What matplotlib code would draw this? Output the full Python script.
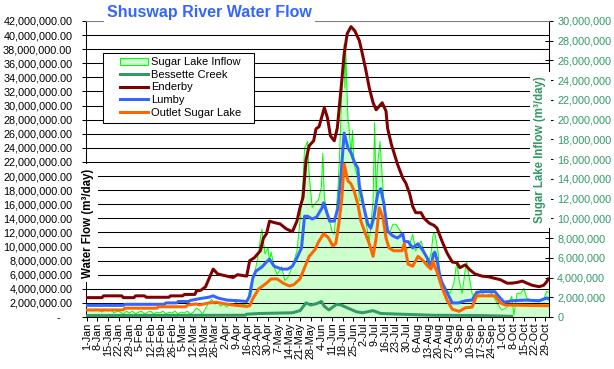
import numpy as np
import matplotlib
matplotlib.use('Agg')
import matplotlib.pyplot as plt
from matplotlib.ticker import FuncFormatter, MultipleLocator, FixedLocator
from matplotlib.lines import Line2D
from matplotlib.patches import Patch, Rectangle
from datetime import datetime

plt.rcParams['font.family'] = ['Liberation Sans', 'DejaVu Sans']

# ---------------- data (values in millions of m3/day; x = days since 1-Jan) ----------------
title = "Shuswap River Water Flow"
left_label = "Water Flow (m³/day)"
right_label = "Sugar Lake Inflow (m³/day)"

tick_labels = ["1-Jan", "8-Jan", "15-Jan", "22-Jan", "29-Jan", "5-Feb", "12-Feb", "19-Feb",
               "26-Feb", "5-Mar", "12-Mar", "19-Mar", "26-Mar", "2-Apr", "9-Apr", "16-Apr",
               "23-Apr", "30-Apr", "7-May", "14-May", "21-May", "28-May", "4-Jun", "11-Jun",
               "18-Jun", "25-Jun", "2-Jul", "9-Jul", "16-Jul", "23-Jul", "30-Jul", "6-Aug",
               "13-Aug", "20-Aug", "27-Aug", "3-Sep", "10-Sep", "17-Sep", "24-Sep", "1-Oct",
               "8-Oct", "15-Oct", "22-Oct", "29-Oct"]

inflow_day = [0, 2, 4, 6, 8, 10, 12, 14, 16, 18, 20, 22, 24, 26, 28, 30, 32, 34, 36, 38, 40,
              42, 44, 46, 48, 50, 52, 54, 56, 58, 60, 62, 64, 66, 68, 70, 72, 74, 76, 78, 80,
              82, 84, 86, 88, 90, 92, 94, 96, 98, 100, 102, 104, 106, 107, 109, 111, 113, 114,
              115, 117, 119, 120, 121, 123, 125, 128, 130, 132, 135, 138, 140, 142, 143, 145,
              146, 148, 151, 152, 154, 155, 156, 159.5, 161, 162.5, 165, 166, 167, 168, 169,
              169.5, 170, 171.5, 172, 173.5, 174.5, 175.5, 178, 179, 181.5, 183.5, 185.5, 188,
              189, 190, 191, 192.5, 194, 195, 197, 198.5, 201, 203, 205, 207.5, 209.5, 211.5,
              214, 216, 219.5, 221.5, 224, 226, 227.5, 228.5, 230.5, 231.5, 233, 236.5, 238.5,
              241, 243, 244.5, 246.5, 248.5, 249.5, 251, 253, 255, 258.5, 261.5, 266, 269.5,
              272.5, 276, 279, 280.5, 282.5, 285, 287, 289, 292.5, 300, 302, 303]
inflow_flow = [0.7, 0.8, 0.6, 0.8, 0.7, 0.5, 0.8, 0.6, 0.7, 0.4, 0.6, 0.5, 0.3, 0.6, 0.4, 0.6,
               0.3, 0.5, 0.6, 0.3, 0.5, 0.6, 0.3, 0.5, 0.4, 0.6, 0.3, 0.5, 0.4, 0.6, 0.3, 0.5,
               0.4, 0.6, 0.3, 0.5, 0.9, 0.7, 0.3, 0.9, 1.4, 1.8, 1.3, 1.5, 1.1, 1.3, 1.0, 1.4,
               1.2, 1.5, 1.1, 1.3, 1.2, 1.8, 2.9, 4.0, 5.0, 6.7, 8.0, 8.9, 6.4, 7.0, 5.6, 6.6,
               5.1, 4.3, 5.1, 3.7, 4.0, 5.1, 6.7, 9.7, 13.8, 17.1, 17.8, 14.5, 11.1, 11.7, 11.8,
               13.1, 16.6, 12.0, 9.7, 8.7, 8.4, 13.1, 16.5, 21.0, 25.2, 27.7, 23.2, 27.0, 19.9,
               19.6, 16.5, 18.9, 15.5, 14.1, 11.8, 11.7, 9.4, 7.7, 11.8, 19.7, 12.5, 15.5, 17.8,
               14.1, 11.8, 9.4, 8.4, 9.4, 9.4, 8.9, 8.4, 6.7, 7.1, 8.4, 6.7, 7.7, 6.7, 5.4, 6.4,
               8.4, 8.5, 6.8, 4.8, 3.4, 2.7, 2.4, 3.4, 5.6, 3.7, 2.4, 4.8, 5.6, 4.1, 2.4, 1.9,
               2.7, 2.1, 2.4, 1.4, 0.7, 1.0, 2.1, 0.2, 2.4, 2.4, 2.9, 1.9, 1.7, 1.8, 2.6, 2.5]

bessette_day = [0, 104, 105, 114, 135, 140, 144, 147, 151, 154, 156, 159, 164, 167, 171, 177,
                181, 188, 193, 206, 227, 260, 279]
bessette_flow = [0.2, 0.25, 0.4, 0.5, 0.6, 0.9, 2.0, 1.7, 1.9, 2.2, 1.5, 1.0, 1.8, 1.7, 1.3,
                 0.75, 0.6, 0.9, 0.5, 0.4, 0.25, 0.2, 0.1]

enderby_day = [0, 10, 11, 23, 24, 31, 32, 38, 39, 54, 55, 63, 64, 71, 72, 75, 78, 81, 83, 86,
               90, 96, 99, 105, 107, 110, 114, 116, 118, 120, 123, 127, 131, 135, 138, 140, 142,
               144, 146, 149, 150.5, 152.5, 156, 158, 160, 162.5, 164.5, 167, 169, 171, 173.5,
               176, 179, 181, 183, 185.5, 188, 190, 192, 194, 196.5, 197.5, 200, 202, 204,
               207.5, 209.5, 212, 214, 216, 219.5, 221.5, 225, 228, 230, 233, 236.5, 240, 243,
               245, 248.5, 251.5, 255, 259.5, 264, 267.5, 271.5, 276, 279, 282.5, 286, 289,
               292.5, 297, 300, 302, 303]
enderby_flow = [2.75, 2.75, 3.0, 3.0, 2.75, 2.75, 3.0, 3.0, 2.8, 2.8, 3.0, 3.0, 3.2, 3.2, 3.7,
                3.8, 4.3, 5.8, 6.8, 6.1, 5.9, 5.6, 6.0, 5.8, 8.0, 8.4, 9.4, 11.2, 11.8, 13.6,
                13.4, 13.2, 12.5, 12.1, 13.6, 15.5, 17.0, 22.3, 24.3, 25.0, 26.7, 27.0, 29.7,
                28.3, 25.7, 25.0, 26.8, 32.5, 37.3, 40.2, 41.2, 40.6, 39.2, 37.3, 35.3, 32.5,
                30.4, 29.4, 29.9, 30.4, 29.2, 26.8, 24.5, 23.1, 21.7, 19.7, 19.0, 17.5, 15.7,
                14.8, 14.8, 14.0, 13.3, 13.0, 12.6, 10.9, 9.1, 7.8, 7.7, 7.0, 7.4, 6.7, 6.1,
                5.8, 5.7, 5.5, 5.3, 4.8, 4.8, 4.9, 5.1, 4.8, 4.5, 4.3, 4.5, 5.0, 5.4]

lumby_day = [0, 24, 25, 51, 52, 59, 60, 67, 68, 74, 80, 83, 86, 92, 100, 105, 107, 109, 111,
             115, 118, 120, 123, 128, 132, 135, 138, 141, 143, 145, 148, 151, 154.5, 155.5,
             159.5, 162.5, 165, 167, 169, 171.5, 173.5, 175.5, 178, 179, 182, 184.5, 186.5,
             188.5, 191, 193, 195, 197.5, 201, 204, 207.5, 208.5, 211, 214, 217.5, 220.8, 224,
             226, 227.5, 228.5, 230, 231.5, 233, 236.5, 240, 244, 248.5, 253, 256, 259.5, 268,
             271, 274, 279, 288, 297, 302, 303]
lumby_flow = [1.65, 1.65, 1.8, 1.8, 2.0, 2.0, 2.2, 2.2, 2.35, 2.6, 2.8, 3.0, 2.7, 2.4, 2.3,
              2.2, 3.0, 5.5, 6.5, 7.1, 7.8, 8.2, 7.2, 6.8, 6.8, 7.2, 8.4, 9.8, 14.3, 14.3, 13.9,
              14.2, 15.5, 16.2, 13.6, 13.6, 15.5, 20.3, 26.1, 24.0, 23.3, 22.1, 21.1, 18.6,
              15.5, 13.2, 12.6, 14.1, 17.5, 18.2, 16.2, 12.2, 11.5, 11.2, 11.8, 10.7, 10.7, 9.8,
              10.4, 9.4, 8.2, 7.0, 8.9, 9.2, 8.1, 6.2, 5.0, 3.5, 2.0, 2.0, 2.3, 2.4, 3.5, 3.6,
              3.6, 2.8, 2.1, 2.3, 2.4, 2.3, 2.7, 2.6]

outlet_day = [0, 24, 25, 46, 47, 65, 66, 72, 74, 80, 85, 90, 96, 105, 107, 109, 113, 118, 121,
              125, 129, 133, 136, 140, 143, 146, 150, 152, 155.5, 158.5, 161.5, 163.5, 165.5,
              167.5, 169, 171.5, 173.5, 175.5, 178, 180, 183, 185.5, 188, 190, 192, 194.5,
              196.5, 198.5, 201.5, 207, 208.5, 211, 214, 217.5, 220.8, 224, 226, 227.5, 228,
              230, 233, 236.5, 240, 244.5, 248.5, 253, 256, 268, 271.5, 274.5, 303]
outlet_flow = [1.0, 1.0, 1.25, 1.25, 1.45, 1.45, 1.7, 1.85, 1.7, 2.0, 2.1, 1.9, 1.7, 1.5, 1.6,
               2.6, 4.0, 4.8, 5.4, 5.4, 4.8, 4.4, 4.6, 5.4, 7.0, 8.6, 9.6, 10.6, 11.8, 11.3,
               10.1, 10.4, 13.2, 16.9, 21.7, 19.3, 18.9, 17.9, 16.0, 13.6, 11.8, 10.4, 8.6, 11.2,
               15.5, 14.1, 11.2, 9.8, 9.4, 9.4, 10.4, 7.5, 7.2, 8.6, 8.0, 7.2, 6.8, 8.0, 7.4,
               6.4, 4.3, 2.4, 1.1, 0.8, 1.3, 1.4, 3.0, 3.0, 2.0, 1.7, 1.6]

series_names = ["Sugar Lake Inflow", "Bessette Creek", "Enderby", "Lumby", "Outlet Sugar Lake"]

# ---------------- styles ----------------
C_INFLOW_LINE = '#00FF00'
C_INFLOW_FILL = '#CCFFCC'
C_BESSETTE = '#339966'
C_ENDERBY = '#800000'
C_LUMBY = '#3366FF'
C_OUTLET = '#FF6600'
C_RIGHT = '#339966'
PX = 0.72  # points per pixel at 100 dpi

W, H = 614, 369
fig = plt.figure(figsize=(W / 100, H / 100), dpi=100)
fig.patch.set_facecolor('white')

L, R, T, B = 86, 549, 21, 317
ax = fig.add_axes([L / W, 1 - B / H, (R - L) / W, (B - T) / H])
ax2 = ax.twinx()
ax.set_zorder(ax2.get_zorder() + 1)
ax.patch.set_visible(False)

M = 1e6
# secondary axis: area series
ax2.fill_between(inflow_day, np.array(inflow_flow) * M, 0, color=C_INFLOW_FILL, lw=0, zorder=1)
ax2.plot(inflow_day, np.array(inflow_flow) * M, color=C_INFLOW_LINE, lw=1.0 * PX, zorder=2)

# primary axis: lines
lw = 3 * PX
ax.plot(bessette_day, np.array(bessette_flow) * M, color=C_BESSETTE, lw=lw, zorder=3)
ax.plot(enderby_day, np.array(enderby_flow) * M, color=C_ENDERBY, lw=lw, zorder=3)
ax.plot(lumby_day, np.array(lumby_flow) * M, color=C_LUMBY, lw=lw, zorder=3)
ax.plot(outlet_day, np.array(outlet_flow) * M, color=C_OUTLET, lw=lw, zorder=3)

ax.set_xlim(-0.5, 303.5)
ax.set_ylim(0, 42 * M)
ax2.set_ylim(0, 30 * M)

# x ticks from the labels
tick_pos = [datetime.strptime(s + "-2003", "%d-%b-%Y").timetuple().tm_yday - 1 for s in tick_labels]
ax.xaxis.set_major_locator(FixedLocator(tick_pos))
ax.set_xticklabels(tick_labels, rotation=90, fontsize=7.8)
ax.tick_params(axis='x', direction='out', length=4 * PX, width=0.75, pad=1.0, color='black')

# left y axis
ax.yaxis.set_major_locator(MultipleLocator(2 * M))
ax.yaxis.set_major_formatter(FuncFormatter(lambda v, p: "-    " if abs(v) < 1 else f"{v:,.2f}"))
ax.tick_params(axis='y', direction='out', length=4 * PX, width=0.75, pad=7, labelsize=7.8,
               colors='black')
ax.yaxis.grid(True, color='black', lw=0.75, zorder=0)
ax.set_axisbelow(True)

# right y axis
ax2.yaxis.set_major_locator(MultipleLocator(2 * M))
ax2.yaxis.set_major_formatter(FuncFormatter(lambda v, p: "0" if abs(v) < 1 else f"{v:,.0f}"))
ax2.tick_params(axis='y', direction='inout', length=8 * PX, width=0.75, pad=3, labelsize=7.8,
                colors='black', labelcolor=C_RIGHT)

for a in (ax, ax2):
    for s in a.spines.values():
        s.set_linewidth(0.75)
        s.set_color('black')
ax.spines['top'].set_color('#808080')
ax.spines['right'].set_visible(False)
ax2.spines['top'].set_visible(False)
ax2.spines['left'].set_visible(False)
ax2.spines['bottom'].set_visible(False)

# axis titles with white backgrounds
fig.text(87.5 / W, 1 - 223 / H, left_label, rotation=90, ha='center', va='center',
         fontsize=8.3, fontweight='bold', color='black', zorder=10,
         bbox=dict(facecolor='white', edgecolor='none', pad=3))
fig.text(540.5 / W, 1 - 150 / H, right_label, rotation=90, ha='center', va='center',
         fontsize=8.3, fontweight='bold', color=C_RIGHT, zorder=10,
         bbox=dict(facecolor='white', edgecolor='none', pad=3))

# title
fig.text(209.5 / W, 1 - 13 / H, title, ha='center', va='center', fontsize=11.5,
         fontweight='bold', color='#3366FF', zorder=10,
         bbox=dict(facecolor='white', edgecolor='none', pad=2))

# legend box
rect = Rectangle((103 / W, 1 - 123 / H), 151 / W, 70 / H, transform=fig.transFigure,
                 facecolor='white', edgecolor='black', lw=0.75, zorder=11)
fig.add_artist(rect)
handles = [Patch(facecolor=C_INFLOW_FILL, edgecolor=C_INFLOW_LINE, lw=0.75),
           Line2D([], [], color=C_BESSETTE, lw=lw),
           Line2D([], [], color=C_ENDERBY, lw=lw),
           Line2D([], [], color=C_LUMBY, lw=lw),
           Line2D([], [], color=C_OUTLET, lw=lw)]
leg = fig.legend(handles, series_names, loc='upper left', bbox_to_anchor=(120 / W, 1 - 57 / H),
                 bbox_transform=fig.transFigure, frameon=False, fontsize=8, borderpad=0,
                 borderaxespad=0, handlelength=2.5, handletextpad=0.3, labelspacing=0.24,
                 handleheight=0.6)
leg.set_zorder(12)

fig.savefig('out.png', dpi=100, facecolor='white')
